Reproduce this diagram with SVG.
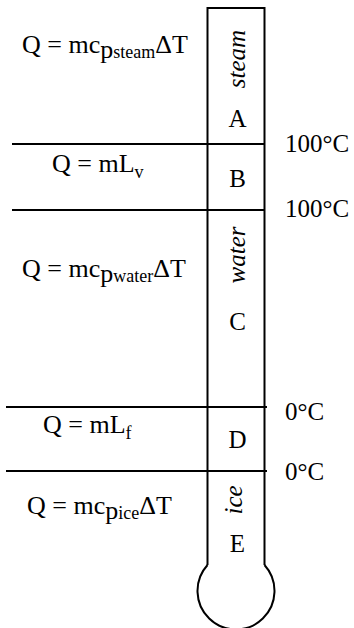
<svg xmlns="http://www.w3.org/2000/svg" width="354" height="628" viewBox="0 0 354 628">
<style>
  .ln { stroke: #000; stroke-width: 2; fill: none; }
  .f { font-size: 26px; }
  .sm { font-size: 18px; }
  .lab { font-size: 25px; text-anchor: middle; }
  .rot { font-size: 25px; font-style: italic; text-anchor: middle; }
  .t { font-size: 25px; }
</style>
<rect width="354" height="628" fill="#fff"/>
<g id="connectors">
  <path class="ln" d="M12,144 H265"/>
  <path class="ln" d="M12,210 H265"/>
  <path class="ln" d="M6,407 H267"/>
  <path class="ln" d="M6,471 H267"/>
</g>
<g id="thermometer">
  <path class="ln" d="M207.5,565 V8 H264.5 V565"/>
  <path class="ln" d="M207.5,565 A38.5 38.5 0 1 0 264.5,565"/>
</g>
<g font-family="Liberation Serif, Times New Roman, serif" fill="#000">
<g id="regionA">
  <text class="rot" transform="translate(245,59) rotate(-90)">steam</text>
  <text class="lab" x="237.5" y="127">A</text>
  <text class="f" x="22" y="53">Q = mc<tspan dy="5">p</tspan><tspan class="sm">steam</tspan><tspan dy="-5">ΔT</tspan></text>
</g>
<g id="regionB">
  <text class="lab" x="237.5" y="187">B</text>
  <text class="f" x="52" y="172">Q = mL<tspan class="sm" dy="6">v</tspan></text>
</g>
<g id="regionC">
  <text class="rot" transform="translate(245,255) rotate(-90)">water</text>
  <text class="lab" x="237.5" y="330">C</text>
  <text class="f" x="22" y="277">Q = mc<tspan dy="5">p</tspan><tspan class="sm">water</tspan><tspan dy="-5">ΔT</tspan></text>
</g>
<g id="regionD">
  <text class="lab" x="237.5" y="448">D</text>
  <text class="f" x="43" y="433">Q = mL<tspan class="sm" dy="6">f</tspan></text>
</g>
<g id="regionE">
  <text class="rot" transform="translate(242,500) rotate(-90)">ice</text>
  <text class="lab" x="237.5" y="552">E</text>
  <text class="f" x="27" y="514">Q = mc<tspan dy="5">p</tspan><tspan class="sm">ice</tspan><tspan dy="-5">ΔT</tspan></text>
</g>
<g id="temps">
  <text class="t" x="285" y="152">100°C</text>
  <text class="t" x="285" y="217">100°C</text>
  <text class="t" x="285" y="420">0°C</text>
  <text class="t" x="285" y="480">0°C</text>
</g>
</g>
</svg>
